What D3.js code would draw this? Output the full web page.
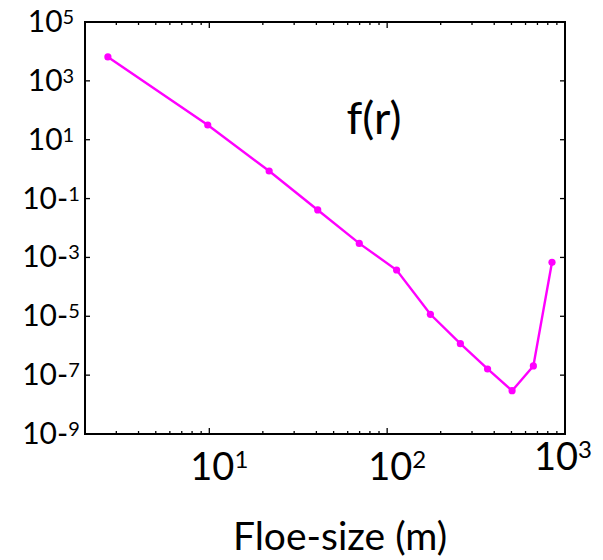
<!DOCTYPE html>
<html>
<head>
<meta charset="utf-8">
<script src="https://d3js.org/d3.v7.min.js"></script>
<style>
  body { margin: 0; background: #fff; }
  text { font-family: Lato, "Open Sans", sans-serif; fill: #000; }
</style>
</head>
<body>
<div id="chart"></div>
<script>
// floe size distribution f(r), log-log
const floeSize = [2.69, 9.8, 21.7, 40.7, 69.7, 113, 175, 258, 367, 504, 664, 845];
const fValues = [6.5e3, 31.6, 0.865, 0.041, 3.0e-3, 3.74e-4, 1.17e-5, 1.17e-6, 1.62e-7, 2.96e-8, 2.05e-7, 6.84e-4];
const yTickExps = [5, 3, 1, -1, -3, -5, -7, -9];
const xTickExps = [1, 2, 3];
const xTitle = "Floe-size (m)";
const curveLabel = "f(r)";

const W = 603, H = 560;
const margin = { top: 22, right: 38, bottom: 126, left: 85 };
const width = W - margin.left - margin.right;
const height = H - margin.top - margin.bottom;

const svg = d3.select("#chart").append("svg")
  .attr("width", W).attr("height", H);
const g = svg.append("g")
  .attr("transform", `translate(${margin.left},${margin.top})`);

const x = d3.scaleLog().domain([2, 1000]).range([0, width]);
const y = d3.scaleLog().domain([1e-9, 1e5]).range([height, 0]);

// minor + major ticks along x (inward, top and bottom)
const xMinor = [];
for (let dec = 1; dec <= 100; dec *= 10) {
  for (let m = 2; m <= 9; m++) {
    const v = m * dec;
    if (v > 2 && v < 1000) xMinor.push(v);
  }
}
const xMajor = xTickExps.map(e => Math.pow(10, e)).filter(v => v < 1000);
const yMajor = yTickExps.map(e => Math.pow(10, e)).filter(v => v > 1e-9 && v < 1e5);

const ticks = g.append("g").attr("stroke", "#000").attr("stroke-width", 1.3);
xMinor.forEach(v => {
  ticks.append("line").attr("x1", x(v)).attr("x2", x(v)).attr("y1", height).attr("y2", height - 3);
  ticks.append("line").attr("x1", x(v)).attr("x2", x(v)).attr("y1", 0).attr("y2", 3);
});
xMajor.forEach(v => {
  ticks.append("line").attr("x1", x(v)).attr("x2", x(v)).attr("y1", height).attr("y2", height - 6);
  ticks.append("line").attr("x1", x(v)).attr("x2", x(v)).attr("y1", 0).attr("y2", 6);
});
yMajor.forEach(v => {
  ticks.append("line").attr("x1", 0).attr("x2", 5).attr("y1", y(v)).attr("y2", y(v));
  ticks.append("line").attr("x1", width).attr("x2", width - 5).attr("y1", y(v)).attr("y2", y(v));
});

// frame
g.append("rect")
  .attr("width", width).attr("height", height)
  .attr("fill", "none").attr("stroke", "#000").attr("stroke-width", 2);

// y tick labels, centred at x ~ 51
yTickExps.forEach(e => {
  const t = svg.append("text")
    .attr("x", 51)
    .attr("y", margin.top + y(Math.pow(10, e)) + 10)
    .attr("text-anchor", "middle")
    .style("font-size", "30px")
    .text(e < 0 ? "10-" : "10");
  t.append("tspan")
    .attr("dy", -8)
    .style("font-size", "20px")
    .text(Math.abs(e));
});

// x tick labels
xTickExps.forEach((e, i) => {
  const last = i === xTickExps.length - 1;
  const t = svg.append("text")
    .attr("x", margin.left + x(Math.pow(10, e)) + (last ? -2 : 10))
    .attr("y", margin.top + height + (last ? 36 : 46))
    .attr("text-anchor", "middle")
    .style("font-size", "38px")
    .text("10");
  t.append("tspan")
    .attr("dy", -12)
    .style("font-size", "24px")
    .text(e);
});

// x title
svg.append("text")
  .attr("x", 340)
  .attr("y", 550)
  .attr("text-anchor", "middle")
  .style("font-size", "39px")
  .text(xTitle);

// curve label
svg.append("text")
  .attr("x", 374)
  .attr("y", 134)
  .attr("text-anchor", "middle")
  .style("font-size", "45px")
  .text(curveLabel);

// line + markers
const pts = floeSize.map((r, i) => [r, fValues[i]]);
g.append("path")
  .datum(pts)
  .attr("fill", "none")
  .attr("stroke", "#ff00ff")
  .attr("stroke-width", 2.4)
  .attr("d", d3.line().x(d => x(d[0])).y(d => y(d[1])));

g.selectAll("circle.pt")
  .data(pts)
  .enter()
  .append("circle")
  .attr("class", "pt")
  .attr("cx", d => x(d[0]))
  .attr("cy", d => y(d[1]))
  .attr("r", 3.6)
  .attr("fill", "#ff00ff");
</script>
</body>
</html>
